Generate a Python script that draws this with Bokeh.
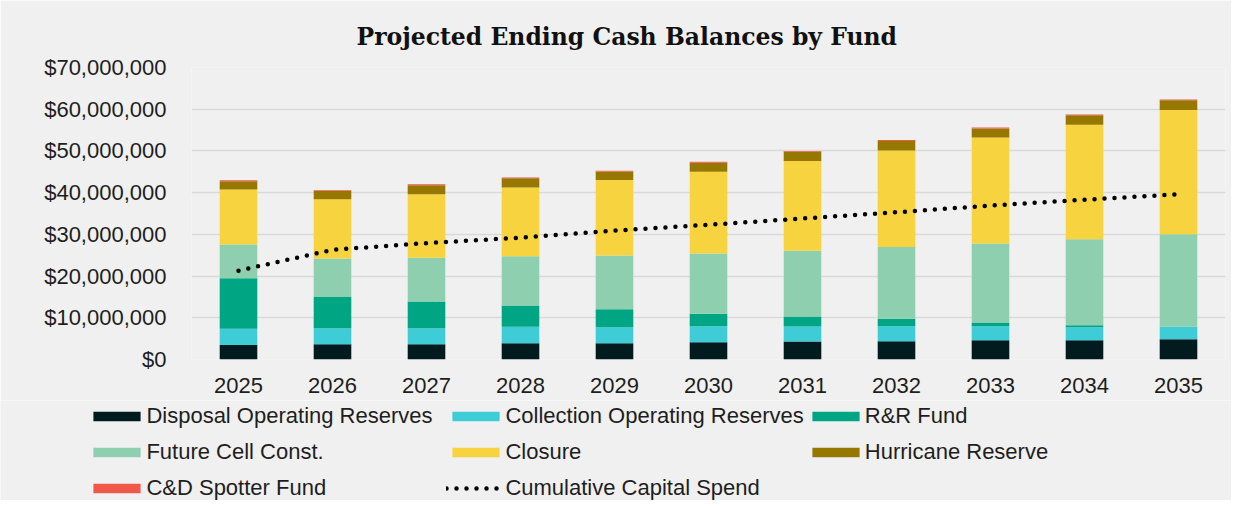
from bokeh.plotting import figure
from bokeh.layouts import column
from bokeh.models import (ColumnDataSource, FactorRange, Range1d, NumeralTickFormatter,
                          SingleIntervalTicker, Legend, LegendItem, Title)
from bokeh.embed import file_html
from bokeh.resources import INLINE

# ---- data (values in $ millions) ----
years = ["2025", "2026", "2027", "2028", "2029", "2030", "2031", "2032", "2033", "2034", "2035"]
disposal = [3.5, 3.67, 3.67, 3.9, 3.9, 4.15, 4.3, 4.4, 4.63, 4.63, 4.87]
collection = [3.86, 3.83, 3.83, 3.94, 3.85, 3.84, 3.6, 3.59, 3.36, 3.12, 2.97]
rr_fund = [12.1, 7.5, 6.4, 5.1, 4.3, 3.0, 2.4, 1.8, 0.9, 0.45, 0.0]
future_cell = [8.1, 9.2, 10.5, 11.8, 12.9, 14.4, 15.8, 17.2, 18.9, 20.6, 22.2]
closure = [13.2, 14.2, 15.2, 16.5, 18.1, 19.6, 21.5, 23.1, 25.4, 27.5, 29.8]
hurricane = [2.0, 2.0, 2.2, 2.2, 2.0, 2.2, 2.2, 2.3, 2.2, 2.25, 2.3]
cd_spotter = [0.2, 0.2, 0.2, 0.2, 0.2, 0.2, 0.2, 0.2, 0.2, 0.2, 0.2]
cumulative_capital = [21.3, 26.3, 27.9, 29.2, 30.9, 32.3, 33.8, 35.3, 36.9, 38.3, 39.6]

series_names = ["Disposal Operating Reserves", "Collection Operating Reserves", "R&R Fund",
                "Future Cell Const.", "Closure", "Hurricane Reserve", "C&D Spotter Fund"]
series_keys = ["disposal", "collection", "rr", "future", "closure", "hurricane", "cd"]
series_colors = ["#021B1F", "#3ECDD6", "#00A584", "#8DCFAF", "#F6D33F", "#967800", "#F0584A"]
line_name = "Cumulative Capital Spend"
title_text = "Projected Ending Cash Balances by Fund"

M = 1_000_000
source = ColumnDataSource(dict(
    years=years,
    disposal=[v * M for v in disposal],
    collection=[v * M for v in collection],
    rr=[v * M for v in rr_fund],
    future=[v * M for v in future_cell],
    closure=[v * M for v in closure],
    hurricane=[v * M for v in hurricane],
    cd=[v * M for v in cd_spotter],
    capital=[v * M for v in cumulative_capital],
))

BG = "#F0F0F0"
TXT = "#1E1E1E"
LINE_STYLE = dict(line_color="black", line_width=4.5, line_dash="0 10", line_cap="round")

# ---------------- main chart ----------------
p = figure(x_range=FactorRange(*years, range_padding=0), y_range=Range1d(0, 70 * M),
           width=1231, height=400, output_backend="svg", toolbar_location=None,
           min_border_left=191, min_border_right=6, min_border_top=67, min_border_bottom=41)
p.background_fill_color = BG
p.border_fill_color = BG
p.outline_line_color = None
p.frame_align = False

p.vbar_stack(series_keys, x="years", width=0.4, source=source,
             fill_color=series_colors, line_color=None)
p.line(x="years", y="capital", source=source, **LINE_STYLE)

p.yaxis.ticker = SingleIntervalTicker(interval=10 * M)
p.yaxis.formatter = NumeralTickFormatter(format="$0,0")
for ax in (p.xaxis, p.yaxis):
    ax.axis_line_color = None
    ax.major_tick_line_color = None
    ax.minor_tick_line_color = None
    ax.major_label_text_font = "Liberation Sans"
    ax.major_label_text_font_size = "22px"
    ax.major_label_text_color = TXT
p.yaxis.major_label_standoff = 19
p.xaxis.major_label_standoff = 12
p.xgrid.grid_line_color = None
p.ygrid.grid_line_color = "#D9D9D9"
p.ygrid.grid_line_width = 1.5

p.add_layout(Title(text=title_text, align="left", offset=165, vertical_align="bottom",
                   standoff=34, text_font="DejaVu Serif", text_font_style="bold",
                   text_font_size="23.5px", text_color="#111111"), "above")

# ---------------- legend strip ----------------
lg = figure(x_range=Range1d(0, 1), y_range=Range1d(0, 1), width=1231, height=100,
            output_backend="svg", toolbar_location=None,
            min_border_left=0, min_border_right=0, min_border_top=0, min_border_bottom=0)
lg.frame_align = False
lg.axis.visible = False
lg.grid.visible = False
lg.background_fill_color = BG
lg.border_fill_color = BG
lg.outline_line_color = None

items = []
for name, color in zip(series_names, series_colors):
    r = lg.vbar(x=[-10], top=[0], width=0.5, fill_color=color, line_color=None)
    items.append(LegendItem(label=name, renderers=[r]))
r_line = lg.line(x=[-10, -9], y=[0, 0], **LINE_STYLE)
items.append(LegendItem(label=line_name, renderers=[r_line]))

legend = Legend(items=items, location=(87.4, -5), orientation="horizontal", ncols=3,
                glyph_width=59, glyph_height=12, label_standoff=0, label_width=298,
                label_height=34, spacing=2, padding=0, margin=0, border_line_color=None,
                background_fill_alpha=0, label_text_font="Liberation Sans",
                label_text_font_size="22px", label_text_color=TXT)
lg.add_layout(legend, "center")

open("out.html", "w").write(file_html(column(p, lg, spacing=0), INLINE))
